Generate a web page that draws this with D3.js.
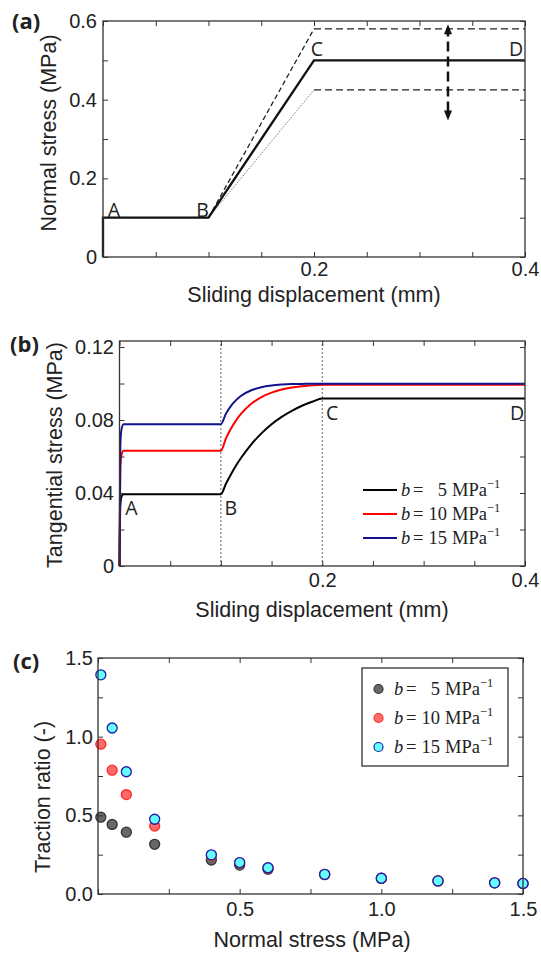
<!DOCTYPE html>
<html>
<head>
<meta charset="utf-8">
<script src="https://cdn.jsdelivr.net/npm/d3@7"></script>
<style>
body { margin: 0; background: #fff; }
svg text { font-family: "Liberation Sans", Arial, sans-serif; fill: #222; }
</style>
</head>
<body>
<script>
// ---- panel (a): normal stress path ----
var dispA = [0, 0, 0.1, 0.2, 0.4];
var normalA = [0, 0.1, 0.1, 0.5, 0.5];
var dispUpper = [0.1, 0.2, 0.4];
var normalUpper = [0.1, 0.58, 0.58];
var dispLower = [0.1, 0.2, 0.4];
var normalLower = [0.1, 0.425, 0.425];
var arrowX = 0.327;
var arrowY = [0.347, 0.592];
var pointNames = ["A", "B", "C", "D"];
var pointDispA = [0, 0.1, 0.2, 0.4];
var pointNormalA = [0.1, 0.1, 0.5, 0.5];

// ---- panel (b): tangential stress ----
var dispB = [0, 0.0008, 0.002, 0.004, 0.1, 0.105, 0.11, 0.115, 0.12, 0.13, 0.14,
             0.15, 0.16, 0.17, 0.18, 0.19, 0.2, 0.4];
var tau5 = [0, 0.033, 0.038, 0.0393, 0.0393, 0.0451, 0.0503, 0.0551, 0.0593, 0.0667, 0.0727,
            0.0777, 0.0817, 0.0850, 0.0878, 0.0900, 0.0918, 0.0918];
var tau10 = [0, 0.054, 0.061, 0.0632, 0.0632, 0.0699, 0.0753, 0.0798, 0.0835, 0.0889, 0.0926,
             0.0950, 0.0967, 0.0978, 0.0985, 0.0990, 0.0993, 0.0993];
var tau15 = [0, 0.066, 0.075, 0.0777, 0.0777, 0.0835, 0.0878, 0.0909, 0.0933, 0.0963, 0.0980,
             0.0989, 0.0994, 0.0997, 0.0998, 0.0999, 0.0999, 0.0999];
var guideX = [0.1, 0.2];
var pointDispB = [0, 0.1, 0.2, 0.4];
var pointTauB = [0.0393, 0.0393, 0.0918, 0.0918];

// ---- panel (c): traction ratio ----
var sigmaC = [0.01, 0.05, 0.1, 0.2, 0.4, 0.5, 0.6, 0.8, 1.0, 1.2, 1.4, 1.5];
var ratio5 = [0.488, 0.442, 0.393, 0.316, 0.216, 0.184, 0.158, 0.123, 0.099, 0.083, 0.071, 0.067];
var ratio10 = [0.952, 0.787, 0.632, 0.432, 0.245, 0.199, 0.166, 0.125, 0.100, 0.083, 0.071, 0.067];
var ratio15 = [1.393, 1.055, 0.777, 0.475, 0.249, 0.200, 0.167, 0.125, 0.100, 0.083, 0.071, 0.067];

var bNames = ["5", "10", "15"];

// ---- ticks ----
var xTicksAB = [0, 0.05, 0.1, 0.15, 0.2, 0.25, 0.3, 0.35, 0.4];
var xLabVals = [0.2, 0.4];
var xLabText = ["0.2", "0.4"];
var yTicksA = [0, 0.1, 0.2, 0.3, 0.4, 0.5, 0.6];
var yLabValsA = [0, 0.2, 0.4, 0.6];
var yLabTextA = ["0", "0.2", "0.4", "0.6"];
var yTicksB = [0, 0.02, 0.04, 0.06, 0.08, 0.1, 0.12];
var yLabValsB = [0, 0.04, 0.08, 0.12];
var yLabTextB = ["0", "0.04", "0.08", "0.12"];
var ticksC = [0, 0.25, 0.5, 0.75, 1.0, 1.25, 1.5];
var xLabValsC = [0.5, 1.0, 1.5];
var xLabTextC = ["0.5", "1.0", "1.5"];
var yLabValsC = [0, 0.5, 1.0, 1.5];
var yLabTextC = ["0.0", "0.5", "1.0", "1.5"];

var svg = d3.select("body").append("svg")
    .attr("width", 541)
    .attr("height", 955);

function labeler(vals, texts) {
    return function(d) {
        for (var i = 0; i < vals.length; i++) {
            if (Math.abs(vals[i] - d) < 1e-9) return texts[i];
        }
        return "";
    };
}

function styleAxis(g) {
    g.attr("font-family", null).attr("font-size", null);
    g.select(".domain").remove();
    g.selectAll(".tick line").attr("stroke", "#333").attr("stroke-width", 1);
    g.selectAll(".tick text").style("font-size", "20px").attr("fill", "#222");
}

function drawFrame(x, y, xt, xl, xs, yt, yl, ys, padX, padY) {
    var l = x.range()[0], r = x.range()[1], b = y.range()[0], t = y.range()[1];
    svg.append("g").attr("transform", "translate(0," + b + ")")
        .call(d3.axisBottom(x).tickValues(xt).tickSizeInner(-5).tickSizeOuter(0)
            .tickPadding(padX).tickFormat(labeler(xl, xs)))
        .call(styleAxis);
    svg.append("g").attr("transform", "translate(0," + t + ")")
        .call(d3.axisTop(x).tickValues(xt).tickSizeInner(-5).tickSizeOuter(0).tickFormat(""))
        .call(styleAxis);
    svg.append("g").attr("transform", "translate(" + l + ",0)")
        .call(d3.axisLeft(y).tickValues(yt).tickSizeInner(-5).tickSizeOuter(0)
            .tickPadding(padY).tickFormat(labeler(yl, ys)))
        .call(styleAxis);
    svg.append("g").attr("transform", "translate(" + r + ",0)")
        .call(d3.axisRight(y).tickValues(yt).tickSizeInner(-5).tickSizeOuter(0).tickFormat(""))
        .call(styleAxis);
    svg.append("rect")
        .attr("x", l).attr("y", t)
        .attr("width", r - l).attr("height", b - t)
        .attr("fill", "none")
        .attr("stroke", "#333")
        .attr("stroke-width", 1.3);
}

function titles(xt, xx, xy, yt, yx, yy, tag, tx, ty) {
    svg.append("text").text(xt)
        .attr("x", xx).attr("y", xy)
        .attr("text-anchor", "middle")
        .style("font-size", "21.5px");
    svg.append("text").text(yt)
        .attr("transform", "translate(" + yx + "," + yy + ") rotate(-90)")
        .attr("text-anchor", "middle")
        .style("font-size", "21.5px");
    svg.append("text").text(tag)
        .attr("x", tx).attr("y", ty)
        .style("font-family", "'Open Sans', sans-serif")
        .style("font-weight", "700")
        .style("font-size", "22px")
        .attr("fill", "#111");
}

function legendLabel(g, x0, y0, name) {
    var t = g.append("text")
        .attr("y", y0 + 6)
        .style("font-family", "'Liberation Serif', 'Times New Roman', serif")
        .style("font-size", "18.5px")
        .attr("fill", "#222");
    t.append("tspan").attr("x", x0).style("font-style", "italic").text("b");
    t.append("tspan").attr("x", x0 + 12).text("=");
    t.append("tspan").attr("x", x0 + 46).attr("text-anchor", "end").text(name);
    t.append("tspan").attr("x", x0 + 51).text("MPa");
    t.append("tspan").attr("x", x0 + 86).attr("dy", -8)
        .style("font-size", "12.5px").text("\u22121");
}

// ================= panel (a) =================
var xA = d3.scaleLinear().domain([0, 0.4]).range([103, 525]);
var yA = d3.scaleLinear().domain([0, 0.6]).range([257, 21]);

var lineA = d3.line()
    .x(function(d) { return xA(d[0]); })
    .y(function(d) { return yA(d[1]); });

var upper = d3.zip(dispUpper, normalUpper);
var lower = d3.zip(dispLower, normalLower);

svg.append("path").datum(upper.slice(0, 2)).attr("d", lineA)
    .attr("fill", "none").attr("stroke", "#222").attr("stroke-width", 1.3)
    .attr("stroke-dasharray", "5,3");
svg.append("path").datum(upper.slice(1)).attr("d", lineA)
    .attr("fill", "none").attr("stroke", "#222").attr("stroke-width", 1.3)
    .attr("stroke-dasharray", "7,4");
svg.append("path").datum(lower.slice(0, 2)).attr("d", lineA)
    .attr("fill", "none").attr("stroke", "#777").attr("stroke-width", 1)
    .attr("stroke-dasharray", "1.5,1.5");
svg.append("path").datum(lower.slice(1)).attr("d", lineA)
    .attr("fill", "none").attr("stroke", "#222").attr("stroke-width", 1.3)
    .attr("stroke-dasharray", "7,4");
svg.append("path").datum(d3.zip(dispA, normalA)).attr("d", lineA)
    .attr("fill", "none").attr("stroke", "#111").attr("stroke-width", 2.3);

// double arrow
var ax = xA(arrowX), yLo = yA(arrowY[0]), yHi = yA(arrowY[1]);
svg.append("line")
    .attr("x1", ax).attr("x2", ax)
    .attr("y1", yLo - 9).attr("y2", yHi + 9)
    .attr("stroke", "#111").attr("stroke-width", 2.5)
    .attr("stroke-dasharray", "10,5");
svg.append("path")
    .attr("d", "M" + ax + "," + yHi + "l-4,10h8z M" + ax + "," + yLo + "l-4,-10h8z")
    .attr("fill", "#111");

var offA = [[11, -1], [-6, -1], [3, -4], [-9, -4]];
svg.selectAll(".labA").data(pointNames).enter().append("text")
    .attr("class", "labA")
    .attr("x", function(d, i) { return xA(pointDispA[i]) + offA[i][0]; })
    .attr("y", function(d, i) { return yA(pointNormalA[i]) + offA[i][1]; })
    .attr("text-anchor", "middle")
    .style("font-family", "'Open Sans', sans-serif")
    .style("font-size", "19.5px")
    .text(function(d) { return d; });

drawFrame(xA, yA, xTicksAB, xLabVals, xLabText, yTicksA, yLabValsA, yLabTextA, 5, 6);
titles("Sliding displacement (mm)", 314, 302, "Normal stress (MPa)", 56, 133, "(a)", 12, 29);

// ================= panel (b) =================
var xB = d3.scaleLinear().domain([0, 0.4]).range([119.5, 525]);
var yB = d3.scaleLinear().domain([0, 0.1233]).range([566, 341]);

svg.selectAll(".guide").data(guideX).enter().append("line")
    .attr("class", "guide")
    .attr("x1", function(d) { return xB(d); })
    .attr("x2", function(d) { return xB(d); })
    .attr("y1", yB.range()[0]).attr("y2", yB.range()[1])
    .attr("stroke", "#555").attr("stroke-width", 0.9)
    .attr("stroke-dasharray", "2,2");

var colorsB = ["#000000", "#ff0000", "#12128c"];
var seriesB = [tau5, tau10, tau15];
var lineB = d3.line()
    .x(function(d, i) { return xB(dispB[i]); })
    .y(function(d) { return yB(d); })
    .curve(d3.curveMonotoneX);

svg.selectAll(".curveB").data(seriesB).enter().append("path")
    .attr("class", "curveB")
    .attr("d", lineB)
    .attr("fill", "none")
    .attr("stroke", function(d, i) { return colorsB[i]; })
    .attr("stroke-width", 2);

var offB = [[12, 21], [10, 21], [10, 21.5], [-8, 21.5]];
svg.selectAll(".labB").data(pointNames).enter().append("text")
    .attr("class", "labB")
    .attr("x", function(d, i) { return xB(pointDispB[i]) + offB[i][0]; })
    .attr("y", function(d, i) { return yB(pointTauB[i]) + offB[i][1]; })
    .attr("text-anchor", "middle")
    .style("font-family", "'Open Sans', sans-serif")
    .style("font-size", "19.5px")
    .text(function(d) { return d; });

var legB = svg.append("g");
bNames.forEach(function(n, i) {
    var yy = 490 + i * 24;
    legB.append("line")
        .attr("x1", 363).attr("x2", 397).attr("y1", yy).attr("y2", yy)
        .attr("stroke", colorsB[i]).attr("stroke-width", 2);
    legendLabel(legB, 401, yy, n);
});

drawFrame(xB, yB, xTicksAB, xLabVals, xLabText, yTicksB, yLabValsB, yLabTextB, 7, 5.5);
titles("Sliding displacement (mm)", 322, 617, "Tangential stress (MPa)", 62, 455, "(b)", 10, 352);

// ================= panel (c) =================
var xC = d3.scaleLinear().domain([0, 1.5]).range([98, 523]);
var yC = d3.scaleLinear().domain([0, 1.5]).range([894, 658]);

var fillC = ["#686868", "#ff6b6b", "#66ffff"];
var strokeC = ["#333333", "#ff2a2a", "#1c1caa"];
var seriesC = [ratio5, ratio10, ratio15];

seriesC.forEach(function(s, k) {
    svg.selectAll(".dot" + k).data(s).enter().append("circle")
        .attr("class", "dot" + k)
        .attr("cx", function(d, i) { return xC(sigmaC[i]); })
        .attr("cy", function(d) { return yC(d); })
        .attr("r", 5)
        .attr("fill", fillC[k])
        .attr("stroke", strokeC[k])
        .attr("stroke-width", 1.3);
});

drawFrame(xC, yC, ticksC, xLabValsC, xLabTextC, ticksC, yLabValsC, yLabTextC, 8, 5);
titles("Normal stress (MPa)", 312, 947, "Traction ratio (-)", 50, 797, "(c)", 13, 669);

var legC = svg.append("g");
legC.append("rect")
    .attr("x", 362).attr("y", 668)
    .attr("width", 146).attr("height", 98)
    .attr("fill", "#fff")
    .attr("stroke", "#333").attr("stroke-width", 1.3);
bNames.forEach(function(n, i) {
    var yy = 689 + i * 29;
    legC.append("circle")
        .attr("cx", 378.5).attr("cy", yy).attr("r", 4.5)
        .attr("fill", fillC[i]).attr("stroke", strokeC[i]).attr("stroke-width", 1.2);
    legendLabel(legC, 394, yy, n);
});
</script>
</body>
</html>
